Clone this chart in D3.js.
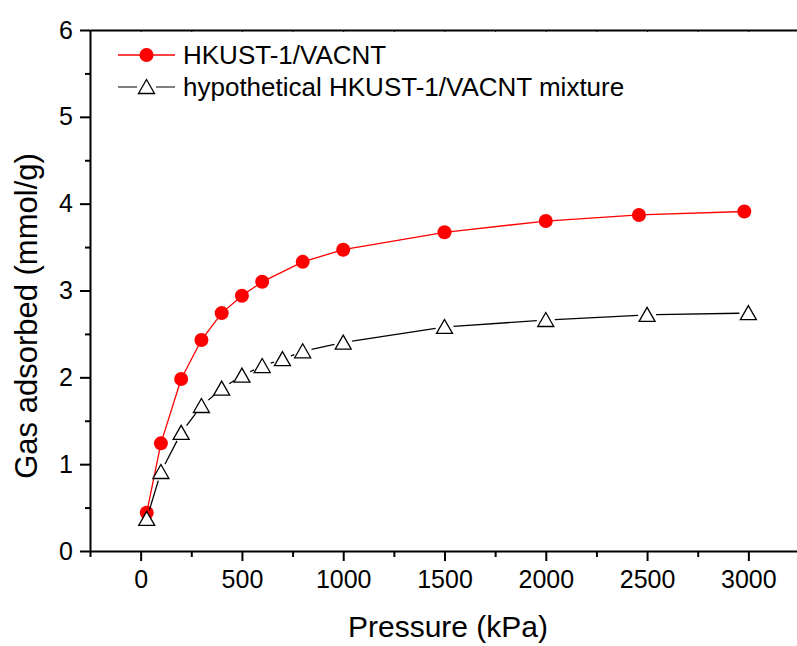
<!DOCTYPE html>
<html>
<head>
<meta charset="utf-8">
<script src="https://cdn.jsdelivr.net/npm/d3@7"></script>
<style>
  body { margin: 0; background: #fff; }
  svg { display: block; font-family: "Liberation Sans", Arial, sans-serif; }
  .axis text { font-size: 25px; fill: #000; }
  .axis path, .axis line { stroke: #000; }
</style>
</head>
<body>
<svg width="797" height="646"></svg>
<script>
// HKUST-1/VACNT measured isotherm
let pressureRed = [30, 100, 200, 300, 400, 500, 600, 800, 1000, 1500, 2000, 2460, 2980];
let uptakeRed = [0.44, 1.24, 1.98, 2.43, 2.74, 2.94, 3.10, 3.33, 3.47, 3.67, 3.80, 3.87, 3.91];

// hypothetical mixture
let pressureMix = [30, 100, 200, 300, 400, 500, 600, 700, 800, 1000, 1500, 2000, 2500, 3000];
let uptakeMix = [0.37, 0.91, 1.36, 1.67, 1.87, 2.02, 2.13, 2.21, 2.30, 2.40, 2.58, 2.66, 2.72, 2.74];

let xTicks = [0, 500, 1000, 1500, 2000, 2500, 3000];
let xMinor = [-250, 250, 750, 1250, 1750, 2250, 2750, 3250];
let yTicks = [0, 1, 2, 3, 4, 5, 6];
let yMinor = [0.5, 1.5, 2.5, 3.5, 4.5, 5.5];
let seriesNames = ["HKUST-1/VACNT", "hypothetical HKUST-1/VACNT mixture"];

let svg = d3.select("svg");

let x = d3.scaleLinear().domain([-250, 3250]).range([90, 799]),
  y = d3.scaleLinear().domain([0, 6]).range([551, 30]);

let fmt = d3.format("d");

let redData = pressureRed.map(function (p, i) { return { p: p, v: uptakeRed[i] }; });
let mixData = pressureMix.map(function (p, i) { return { p: p, v: uptakeMix[i] }; });

// top frame line with tiny inward ticks
svg.append("g")
  .attr("class", "axis")
  .attr("transform", "translate(0," + y(6) + ")")
  .call(d3.axisBottom(x).tickValues(xTicks.concat(xMinor)).tickSize(2).tickSizeOuter(0).tickFormat(""))
  .call(function (g) { g.select(".domain").attr("stroke-width", 2); g.selectAll("line").attr("stroke-width", 1); });

// bottom axis, minor then major
svg.append("g")
  .attr("class", "axis")
  .attr("transform", "translate(0," + y(0) + ")")
  .call(d3.axisBottom(x).tickValues(xMinor).tickSize(6).tickSizeOuter(0).tickFormat(""))
  .call(function (g) { g.select(".domain").remove(); g.selectAll("line").attr("stroke-width", 2); });

svg.append("g")
  .attr("class", "axis")
  .attr("transform", "translate(0," + y(0) + ")")
  .call(d3.axisBottom(x).tickValues(xTicks).tickFormat(fmt).tickSize(10).tickPadding(9).tickSizeOuter(0))
  .call(function (g) { g.select(".domain").attr("stroke-width", 2); g.selectAll("line").attr("stroke-width", 2); });

// left axis
svg.append("g")
  .attr("class", "axis")
  .attr("transform", "translate(" + x(-250) + ",0)")
  .call(d3.axisLeft(y).tickValues(yMinor).tickSize(5).tickSizeOuter(0).tickFormat(""))
  .call(function (g) { g.select(".domain").remove(); g.selectAll("line").attr("stroke-width", 2); });

svg.append("g")
  .attr("class", "axis")
  .attr("transform", "translate(" + x(-250) + ",0)")
  .call(d3.axisLeft(y).tickValues(yTicks).tickFormat(fmt).tickSize(10).tickPadding(7).tickSizeOuter(0))
  .call(function (g) { g.select(".domain").attr("stroke-width", 2); g.selectAll("line").attr("stroke-width", 2); });

// axis titles
svg.append("text")
  .attr("x", 448)
  .attr("y", 637)
  .attr("text-anchor", "middle")
  .style("font-size", "30px")
  .text("Pressure (kPa)");

svg.append("text")
  .attr("transform", "translate(37,316) rotate(-90)")
  .attr("text-anchor", "middle")
  .style("font-size", "31px")
  .text("Gas adsorbed (mmol/g)");

// red line + circles
let line = d3.line().x(function (d) { return x(d.p); }).y(function (d) { return y(d.v); });

svg.append("path")
  .datum(redData)
  .attr("fill", "none")
  .attr("stroke", "#ff0000")
  .attr("stroke-width", 1.3)
  .attr("d", line);

svg.selectAll(".dot")
  .data(redData)
  .enter()
  .append("circle")
  .attr("class", "dot")
  .attr("cx", function (d) { return x(d.p); })
  .attr("cy", function (d) { return y(d.v); })
  .attr("r", 7)
  .attr("fill", "#ff0000");

// black line with gaps at the triangles
let gap = 9;
let segs = d3.pairs(mixData).map(function (pr) {
  let x1 = x(pr[0].p), y1 = y(pr[0].v), x2 = x(pr[1].p), y2 = y(pr[1].v);
  let len = Math.hypot(x2 - x1, y2 - y1);
  let ux = (x2 - x1) / len, uy = (y2 - y1) / len;
  return { x1: x1 + ux * gap, y1: y1 + uy * gap, x2: x2 - ux * gap, y2: y2 - uy * gap, len: len };
}).filter(function (s) { return s.len > 2 * gap; });

svg.selectAll(".seg")
  .data(segs)
  .enter()
  .append("line")
  .attr("class", "seg")
  .attr("x1", function (d) { return d.x1; })
  .attr("y1", function (d) { return d.y1; })
  .attr("x2", function (d) { return d.x2; })
  .attr("y2", function (d) { return d.y2; })
  .attr("stroke", "#000")
  .attr("stroke-width", 1.3);

let tri = "M-8,6.5L8,6.5L0,-7.5Z";

svg.selectAll(".tri")
  .data(mixData)
  .enter()
  .append("path")
  .attr("class", "tri")
  .attr("transform", function (d) { return "translate(" + x(d.p) + "," + y(d.v) + ")"; })
  .attr("d", tri)
  .attr("fill", "#fff")
  .attr("stroke", "#000")
  .attr("stroke-width", 1.3);

// legend
let legend = svg.append("g");

legend.append("line")
  .attr("x1", 118).attr("x2", 175).attr("y1", 55).attr("y2", 55)
  .attr("stroke", "#ff0000").attr("stroke-width", 1.3);
legend.append("circle")
  .attr("cx", 146.5).attr("cy", 55).attr("r", 7).attr("fill", "#ff0000");
legend.append("text")
  .attr("x", 183).attr("y", 64)
  .style("font-size", "26px")
  .text(seriesNames[0]);

legend.append("line")
  .attr("x1", 118).attr("x2", 137).attr("y1", 87).attr("y2", 87)
  .attr("stroke", "#000").attr("stroke-width", 1);
legend.append("line")
  .attr("x1", 156).attr("x2", 175).attr("y1", 87).attr("y2", 87)
  .attr("stroke", "#000").attr("stroke-width", 1);
legend.append("path")
  .attr("transform", "translate(146.5,87)")
  .attr("d", tri)
  .attr("fill", "#fff").attr("stroke", "#000").attr("stroke-width", 1.3);
legend.append("text")
  .attr("x", 183).attr("y", 96)
  .style("font-size", "26px")
  .text(seriesNames[1]);
</script>
</body>
</html>
